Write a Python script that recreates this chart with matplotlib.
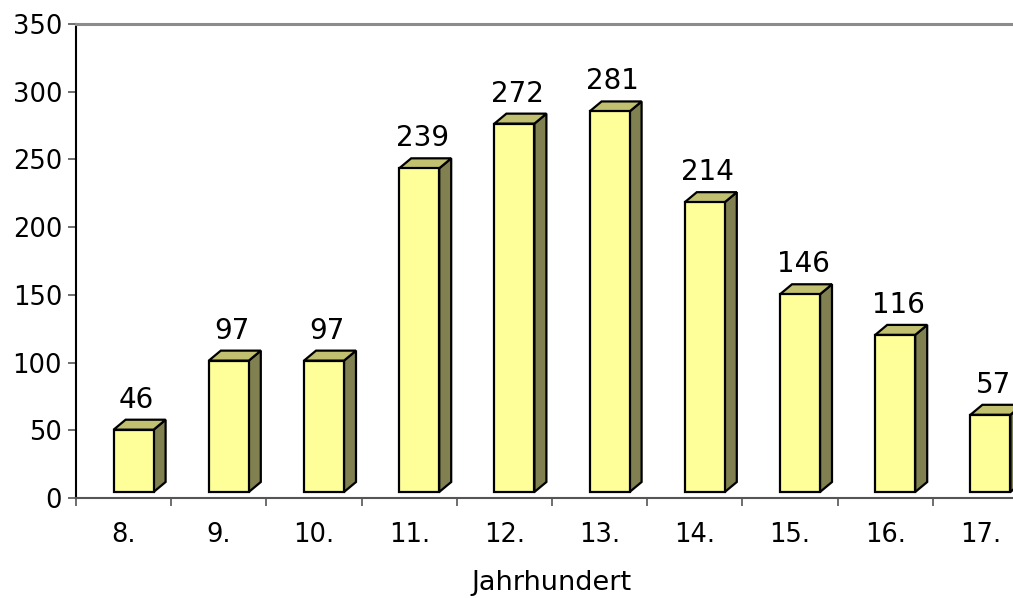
import matplotlib
matplotlib.use("Agg")
import matplotlib.pyplot as plt
from matplotlib.patches import Polygon, Rectangle

categories = ["8.", "9.", "10.", "11.", "12.", "13.", "14.", "15.", "16.", "17."]
values = [46, 97, 97, 239, 272, 281, 214, 146, 116, 57]
yticks = [0, 50, 100, 150, 200, 250, 300, 350]
xlabel = "Jahrhundert"

W, H, DPI = 1013, 598, 100
fig = plt.figure(figsize=(W / DPI, H / DPI), dpi=DPI)
plt.rcParams['font.family'] = ['DejaVu Sans']

left_px, right_px, top_px, bottom_px = 76, 1028, 24, 498
ax = fig.add_axes([left_px / W, 1 - bottom_px / H,
                   (right_px - left_px) / W, (bottom_px - top_px) / H])
n = len(categories)
ax.set_xlim(-0.5, n - 0.5)
ax.set_ylim(0, 350)

ppx = (right_px - left_px) / n        # pixels per category
ppy = (bottom_px - top_px) / 350.0    # pixels per value unit

front_c = 10 / ppx      # front face center offset from category center
front_w = 40 / ppx      # front face width
base = 6 / ppy          # floor offset
ddx = 12 / ppx          # depth x
ddy = 10 / ppy          # depth y

c_front = "#FFFF99"
c_top = "#C0C070"
c_side = "#808050"
lw = 1.6

for i, v in enumerate(values):
    x0 = i + front_c - front_w / 2
    x1 = x0 + front_w
    y0 = base
    y1 = base + v
    side = Polygon([(x1, y0), (x1 + ddx, y0 + ddy), (x1 + ddx, y1 + ddy), (x1, y1)],
                   closed=True, facecolor=c_side, edgecolor="black", lw=lw,
                   joinstyle="miter", zorder=3, clip_on=False)
    top = Polygon([(x0, y1), (x0 + ddx, y1 + ddy), (x1 + ddx, y1 + ddy), (x1, y1)],
                  closed=True, facecolor=c_top, edgecolor="black", lw=lw,
                  joinstyle="miter", zorder=3, clip_on=False)
    front = Rectangle((x0, y0), front_w, v, facecolor=c_front, edgecolor="black",
                      lw=lw, joinstyle="miter", zorder=4, clip_on=False)
    ax.add_patch(side)
    ax.add_patch(top)
    ax.add_patch(front)
    ax.text(i + front_c + 3 / ppx, y1 + ddy + 12 / ppy, str(v), ha="center",
            va="baseline", fontsize=20, color="black", clip_on=False)

ax.set_yticks(yticks)
ax.set_yticklabels([str(t) for t in yticks])
ax.set_xticks(range(n))
ax.set_xticklabels(categories)
ax.set_xticks([i - 0.5 for i in range(n + 1)], minor=True)

ax.tick_params(axis="y", which="major", length=6, width=1.2, color="#555555",
               labelsize=18.5, pad=4)
ax.tick_params(axis="x", which="major", length=0, labelsize=18.5, pad=17)
ax.tick_params(axis="x", which="minor", length=6, width=1.2, color="#555555",
               direction="out")

ax.spines["left"].set_color("black")
ax.spines["left"].set_linewidth(1.5)
ax.spines["bottom"].set_color("#555555")
ax.spines["bottom"].set_linewidth(1.5)
ax.spines["top"].set_color("#8c8c8c")
ax.spines["top"].set_linewidth(2.2)
ax.spines["right"].set_visible(False)

fig.text((left_px + 476) / W, 1 - 583 / H, xlabel, ha="center", va="center",
         fontsize=19.5, color="black")

fig.savefig("out.png", dpi=DPI)
